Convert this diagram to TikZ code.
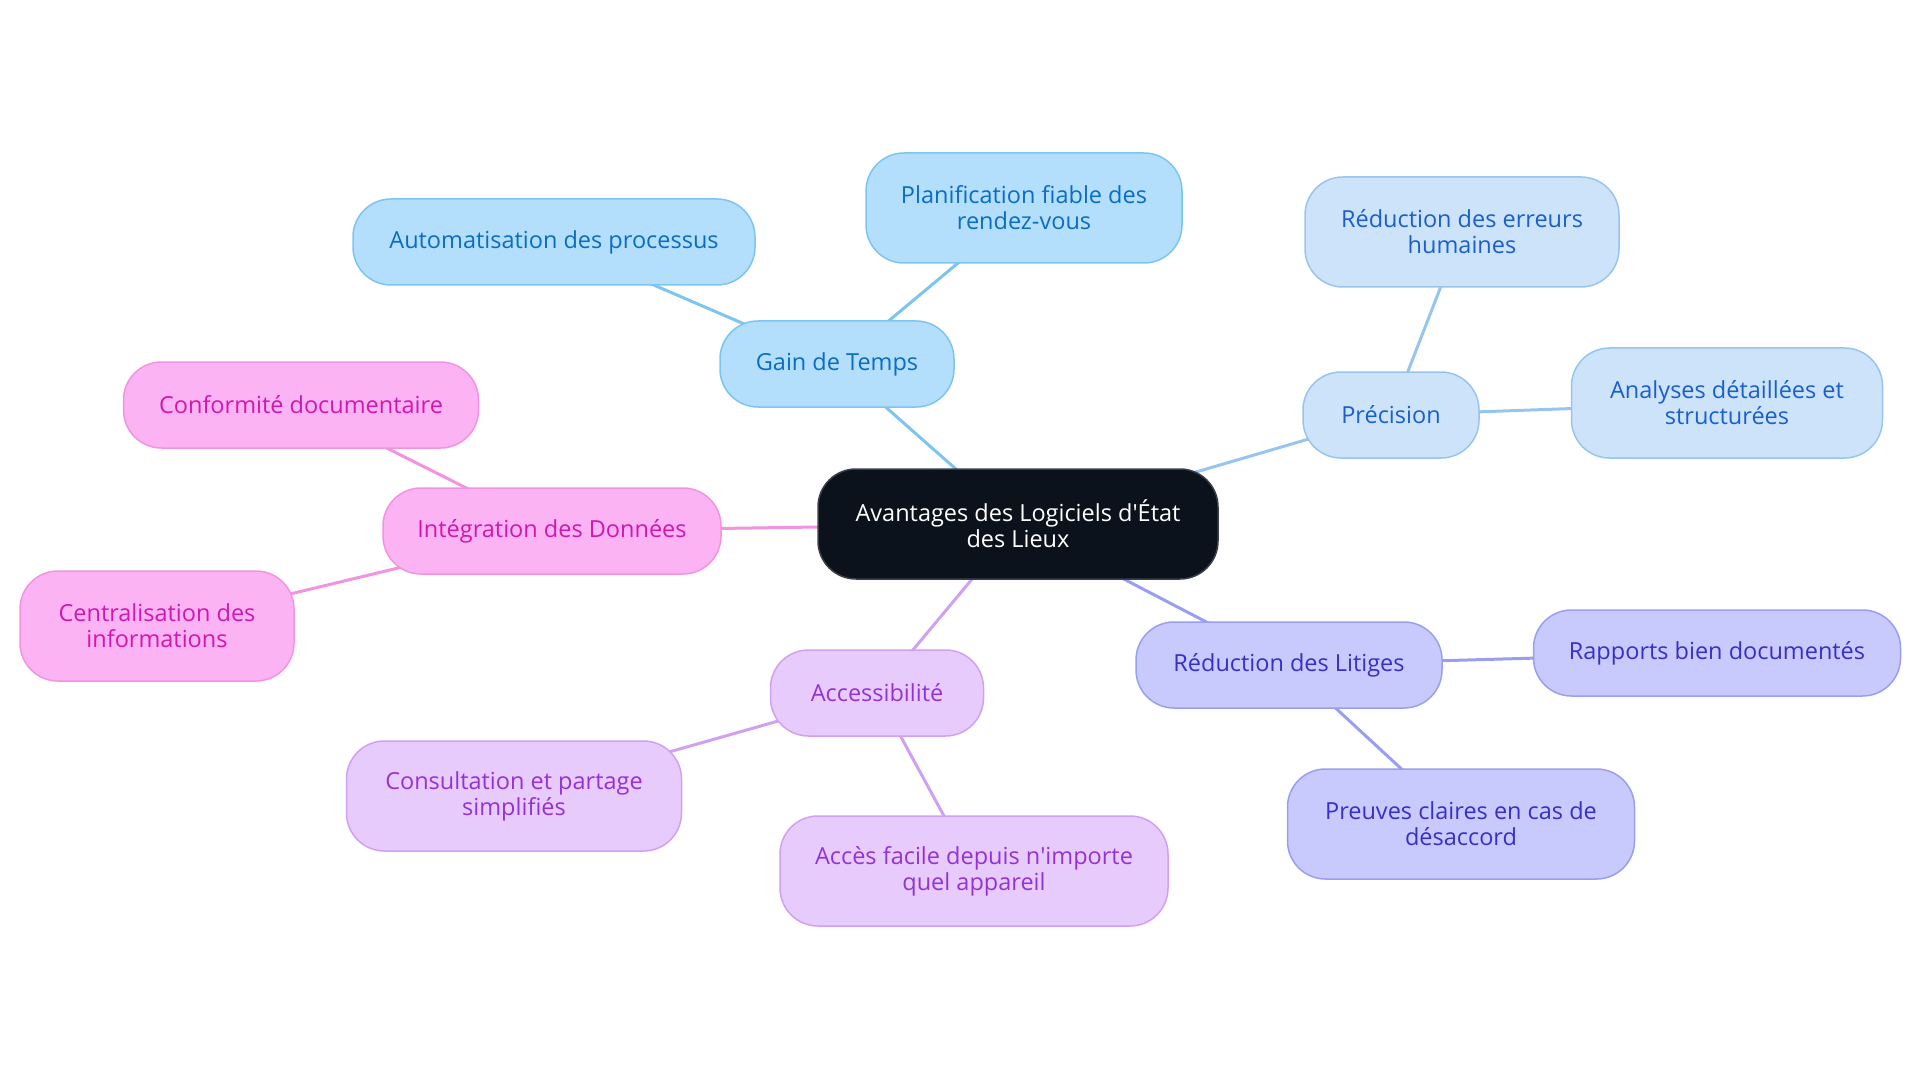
\documentclass[tikz,border=0pt]{standalone}
\usepackage{fontspec}
\setmainfont{Open Sans}
\usetikzlibrary{backgrounds}

\definecolor{rootfill}{HTML}{0C121C}
\definecolor{rootline}{HTML}{3A3F47}
\definecolor{gainfill}{HTML}{B3DFFD}
\definecolor{gainline}{HTML}{7EC4F1}
\definecolor{gaintext}{HTML}{0A6DC2}
\definecolor{precfill}{HTML}{CDE3FA}
\definecolor{precline}{HTML}{98C4F0}
\definecolor{prectext}{HTML}{1A5FCC}
\definecolor{integfill}{HTML}{FCB3F3}
\definecolor{integline}{HTML}{F293E2}
\definecolor{integtext}{HTML}{D216B0}
\definecolor{accfill}{HTML}{E8CBFD}
\definecolor{accline}{HTML}{D0A0F3}
\definecolor{acctext}{HTML}{9432D6}
\definecolor{litfill}{HTML}{C8CAFD}
\definecolor{litline}{HTML}{9A9EF0}
\definecolor{littext}{HTML}{3630C6}

\tikzset{
  box/.style={rounded corners=38pt, draw, line width=1.5pt, align=center,
    font=\fontsize{23.5}{26}\selectfont, minimum height=86pt, inner sep=0pt},
  tall/.style={minimum height=110pt},
  rootbox/.style={box, tall, fill=rootfill, draw=rootline, text=white},
  gainbox/.style={box, fill=gainfill, draw=gainline, text=gaintext},
  precbox/.style={box, fill=precfill, draw=precline, text=prectext},
  integbox/.style={box, fill=integfill, draw=integline, text=integtext},
  accbox/.style={box, fill=accfill, draw=accline, text=acctext},
  litbox/.style={box, fill=litfill, draw=litline, text=littext},
  link/.style={line width=3pt}
}

\begin{document}
\begin{tikzpicture}[x=1pt, y=-1pt]
\useasboundingbox (0,0) rectangle (1920,1083);

\node (root) at (1018, 524) [rootbox, minimum width=400pt] {Avantages des Logiciels d\textquotesingle État\\des Lieux};

\node (gain) at (837, 364) [gainbox, minimum width=234pt] {Gain de Temps};
\node (auto) at (554, 242) [gainbox, minimum width=402pt] {Automatisation des processus};
\node (plan) at (1024, 208) [gainbox, tall, minimum width=316pt] {Planification fiable des\\rendez-vous};

\node (prec) at (1391, 415) [precbox, minimum width=176pt] {Précision};
\node (err) at (1462, 232) [precbox, tall, minimum width=314pt] {Réduction des erreurs\\humaines};
\node (ana) at (1727, 403) [precbox, tall, minimum width=311pt] {Analyses détaillées et\\structurées};

\node (integ) at (552, 531) [integbox, minimum width=338pt] {Intégration des Données};
\node (conf) at (301, 405) [integbox, minimum width=355pt] {Conformité documentaire};
\node (centr) at (157, 626) [integbox, tall, minimum width=274pt] {Centralisation des\\informations};

\node (acc) at (877, 693) [accbox, minimum width=213pt] {Accessibilité};
\node (cons) at (514, 796) [accbox, tall, minimum width=335pt] {Consultation et partage\\simplifiés};
\node (facile) at (974, 871) [accbox, tall, minimum width=388pt] {Accès facile depuis n\textquotesingle importe\\quel appareil};

\node (lit) at (1289, 665) [litbox, minimum width=306pt] {Réduction des Litiges};
\node (rap) at (1717, 653) [litbox, minimum width=367pt] {Rapports bien documentés};
\node (preu) at (1461, 824) [litbox, tall, minimum width=347pt] {Preuves claires en cas de\\désaccord};

% connectors behind the boxes
\begin{scope}[on background layer]
\draw [link, gainline] (root.center) -- (gain.center);
\draw [link, gainline] (gain.center) -- (auto.center);
\draw [link, gainline] (gain.center) -- (plan.center);

\draw [link, precline] (root.center) -- (prec.center);
\draw [link, precline] (prec.center) -- (err.center);
\draw [link, precline] (prec.center) -- (ana.center);

\draw [link, integline] (root.center) -- (integ.center);
\draw [link, integline] (integ.center) -- (conf.center);
\draw [link, integline] (integ.center) -- (centr.center);

\draw [link, accline] (root.center) -- (acc.center);
\draw [link, accline] (acc.center) -- (cons.center);
\draw [link, accline] (acc.center) -- (facile.center);

\draw [link, litline] (root.center) -- (lit.center);
\draw [link, litline] (lit.center) -- (rap.center);
\draw [link, litline] (lit.center) -- (preu.center);
\end{scope}
\end{tikzpicture}
\end{document}
